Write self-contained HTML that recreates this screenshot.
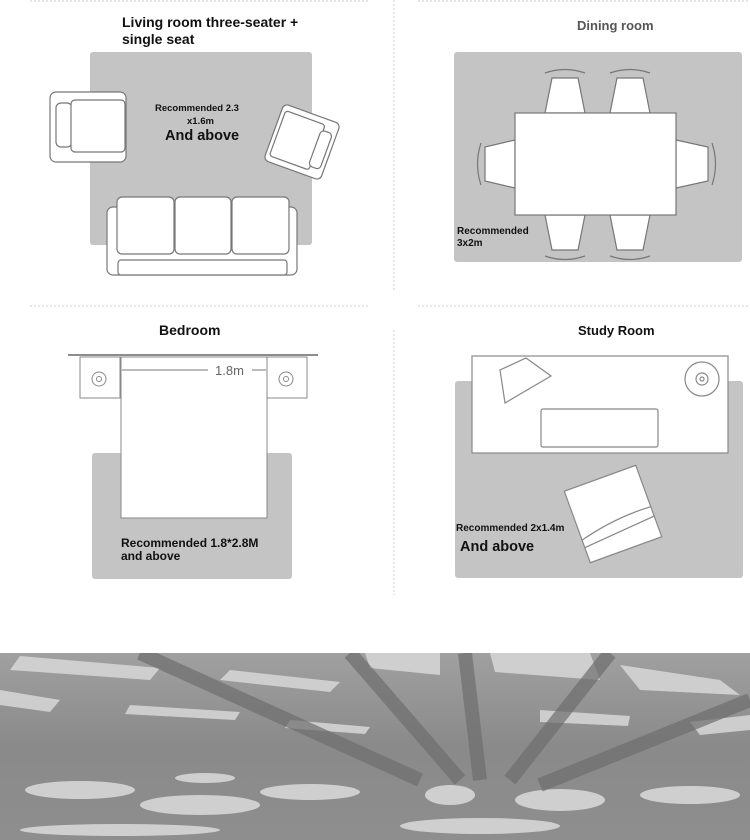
<!DOCTYPE html>
<html><head><style>
html,body{margin:0;padding:0;background:#fff;}
svg{display:block;}
text{font-family:"Liberation Sans","DejaVu Sans",sans-serif;font-weight:bold;fill:#111;}
</style></head><body>
<svg width="750" height="840" viewBox="0 0 750 840" xmlns="http://www.w3.org/2000/svg">
<defs>
<linearGradient id="sky" x1="0" y1="0" x2="0" y2="1">
<stop offset="0" stop-color="#a0a0a0"/><stop offset="0.5" stop-color="#8a8a8a"/><stop offset="1" stop-color="#8e8e8e"/>
</linearGradient>
<clipPath id="ph"><rect x="0" y="653" width="750" height="187"/></clipPath>
</defs>
<g stroke="#ccc" stroke-dasharray="2,2" stroke-width="1">
<line x1="30" y1="1" x2="370" y2="1"/><line x1="418" y1="1" x2="750" y2="1"/>
<line x1="30" y1="306" x2="370" y2="306"/><line x1="418" y1="306" x2="750" y2="306"/>
<line x1="394" y1="0" x2="394" y2="290"/><line x1="394" y1="330" x2="394" y2="595"/>
</g>

<text x="122" y="27" font-size="14">Living room three-seater +</text>
<text x="122" y="44" font-size="14">single seat</text>
<rect x="90" y="52" width="222" height="193" rx="3" fill="#c4c4c4"/>
<g fill="#fff" stroke="#777" stroke-width="1.2">
<rect x="50" y="92" width="76" height="70" rx="6"/>
<rect x="56" y="103" width="16" height="44" rx="5"/>
<rect x="71" y="100" width="54" height="52" rx="4"/>
<g transform="translate(302,142) rotate(20)">
<rect x="-30" y="-30" width="60" height="60" rx="5"/>
<rect x="-26" y="-24" width="42" height="48" rx="3"/>
<rect x="14" y="-18" width="12" height="38" rx="4"/>
</g>
<rect x="107" y="207" width="190" height="68" rx="6"/>
<rect x="117" y="197" width="57" height="57" rx="5"/>
<rect x="175" y="197" width="56" height="57" rx="5"/>
<rect x="232" y="197" width="57" height="57" rx="5"/>
<rect x="118" y="260" width="169" height="15" rx="3"/>
</g>
<text x="155" y="111" font-size="9.5" fill="#333">Recommended 2.3</text>
<text x="187" y="124" font-size="9.5" fill="#333">x1.6m</text>
<text x="165" y="140" font-size="14.5">And above</text>

<text x="577" y="30" font-size="13" style="fill:#555">Dining room</text>
<rect x="454" y="52" width="288" height="210" rx="3" fill="#c4c4c4"/>
<g fill="#fff" stroke="#777" stroke-width="1.2">
<path d="M552 78 L578 78 L585 113 L545 113 Z"/>
<path d="M617 78 L643 78 L650 113 L610 113 Z"/>
<path d="M545 215 L585 215 L578 250 L552 250 Z"/>
<path d="M610 215 L650 215 L643 250 L617 250 Z"/>
<path d="M485 147 L515 140 L515 188 L485 181 Z"/>
<path d="M676 140 L708 147 L708 181 L676 188 Z"/>
<path d="M545 73 Q565 66 585 73" fill="none"/>
<path d="M610 73 Q630 66 650 73" fill="none"/>
<path d="M545 256 Q565 263 585 256" fill="none"/>
<path d="M610 256 Q630 263 650 256" fill="none"/>
<path d="M481 143 Q474 164 481 185" fill="none"/>
<path d="M712 143 Q719 164 712 185" fill="none"/>
<rect x="515" y="113" width="161" height="102"/>
</g>
<text x="457" y="234" font-size="10">Recommended</text>
<text x="457" y="246" font-size="10">3x2m</text>

<text x="159" y="335" font-size="14">Bedroom</text>
<rect x="92" y="453" width="200" height="126" rx="3" fill="#c4c4c4"/>
<line x1="68" y1="355" x2="318" y2="355" stroke="#666" stroke-width="1.5"/>
<g fill="#fff" stroke="#888" stroke-width="1">
<rect x="80" y="357" width="40" height="41"/>
<rect x="267" y="357" width="40" height="41"/>
<rect x="121" y="357" width="146" height="161"/>
<circle cx="99" cy="379" r="7"/><circle cx="99" cy="379" r="2.5"/>
<circle cx="286" cy="379" r="7"/><circle cx="286" cy="379" r="2.5"/>
</g>
<line x1="122" y1="370" x2="208" y2="370" stroke="#777"/>
<line x1="252" y1="370" x2="266" y2="370" stroke="#777"/>
<text x="215" y="375" font-size="13" style="font-weight:normal;fill:#666">1.8m</text>
<text x="121" y="547" font-size="12">Recommended 1.8*2.8M</text>
<text x="121" y="560" font-size="12">and above</text>

<text x="578" y="335" font-size="13">Study Room</text>
<rect x="455" y="381" width="288" height="197" rx="3" fill="#c4c4c4"/>
<g fill="#fff" stroke="#888" stroke-width="1.2">
<rect x="472" y="356" width="256" height="97"/>
<rect x="541" y="409" width="117" height="38" rx="2"/>
<path d="M500 370 L526 358 L551 376 L505 403 Z"/>
<circle cx="702" cy="379" r="17"/><circle cx="702" cy="379" r="6"/><circle cx="702" cy="379" r="2"/>
<g transform="translate(613,514) rotate(-20)">
<rect x="-38" y="-38" width="76" height="76"/>
<path d="M-38 14 Q0 4 38 6 M-38 22 L38 16" fill="none"/>
</g>
</g>
<text x="456" y="531" font-size="10">Recommended 2x1.4m</text>
<text x="460" y="551" font-size="14.5">And above</text>

<g clip-path="url(#ph)">
<rect x="0" y="653" width="750" height="187" fill="url(#sky)"/>
<g fill="#d8d8d8" opacity="0.85">
<polygon points="20,656 160,668 150,680 10,670"/>
<polygon points="230,670 340,682 330,692 220,680"/>
<polygon points="365,653 440,653 440,675 370,668"/>
<polygon points="490,653 590,653 600,680 495,672"/>
<polygon points="620,665 720,680 740,695 640,690"/>
<polygon points="130,705 240,712 235,720 125,714"/>
<polygon points="290,720 370,727 365,734 285,728"/>
<polygon points="0,690 60,700 50,712 0,705"/>
<polygon points="540,710 630,716 628,726 540,722"/>
<polygon points="690,722 750,715 750,730 700,735"/>
</g>
<g fill="#e0e0e0" opacity="0.8">
<ellipse cx="80" cy="790" rx="55" ry="9"/>
<ellipse cx="200" cy="805" rx="60" ry="10"/>
<ellipse cx="310" cy="792" rx="50" ry="8"/>
<ellipse cx="450" cy="795" rx="25" ry="10"/>
<ellipse cx="560" cy="800" rx="45" ry="11"/>
<ellipse cx="690" cy="795" rx="50" ry="9"/>
<ellipse cx="205" cy="778" rx="30" ry="5"/>
<ellipse cx="480" cy="826" rx="80" ry="8"/>
<ellipse cx="120" cy="830" rx="100" ry="6"/>
</g>
<g stroke="#6e6e6e" stroke-width="14" opacity="0.7">
<line x1="140" y1="653" x2="420" y2="780"/>
<line x1="350" y1="653" x2="460" y2="780"/>
<line x1="465" y1="653" x2="480" y2="780"/>
<line x1="610" y1="653" x2="510" y2="780"/>
<line x1="750" y1="700" x2="540" y2="785"/>
</g>
</g>
</svg>
</body></html>
